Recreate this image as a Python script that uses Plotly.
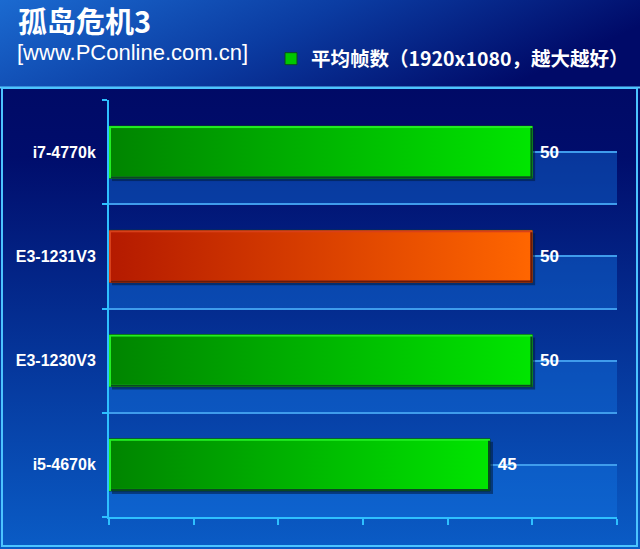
import base64
import plotly.graph_objects as go

# ---- data ----
categories = ["i7-4770k", "E3-1231V3", "E3-1230V3", "i5-4670k"]
fps_values = [50, 50, 50, 45]
highlight = "E3-1231V3"
x_ticks = [0, 10, 20, 30, 40, 50, 60]
title_text = "孤岛危机3"
subtitle_text = "[www.PConline.com.cn]"
series_name = "平均帧数（1920x1080，越大越好）"

W, H = 640, 549
ML, MR, MT, MB = 109, 23, 100, 32
PW, PH = W - ML - MR, H - MT - MB
BAR_W = 0.5
SH = 3  # shadow offset in px

positions = list(range(len(categories) - 1, -1, -1))  # top to bottom
x_span = x_ticks[-1] - x_ticks[0]
y_span = len(categories)


def svg_uri(svg):
    return "data:image/svg+xml;base64," + base64.b64encode(svg.encode("utf-8")).decode()


bg_svg = f"""<svg xmlns='http://www.w3.org/2000/svg' width='{W}' height='{H}' viewBox='0 0 {W} {H}' preserveAspectRatio='none'>
<defs>
<linearGradient id='h' x1='0' y1='0' x2='1' y2='0.3'>
<stop offset='0' stop-color='#1b6ad0'/><stop offset='0.5' stop-color='#0b3ca2'/><stop offset='1' stop-color='#000a68'/>
</linearGradient>
<linearGradient id='p' x1='0' y1='0' x2='0' y2='1'>
<stop offset='0' stop-color='#000a66'/><stop offset='0.15' stop-color='#000d6c'/><stop offset='1' stop-color='#0a5cc6'/>
</linearGradient>
</defs>
<rect x='0' y='0' width='{W}' height='88' fill='url(#h)'/>
<rect x='0' y='88' width='{W}' height='{H-88}' fill='url(#p)'/>
<line x1='0' y1='87.5' x2='{W}' y2='87.5' stroke='#5fd0ff' stroke-width='2'/>
<rect x='2' y='88' width='{W-5}' height='{H-91}' fill='none' stroke='#4cc4ff' stroke-width='2'/>
</svg>"""


def bar_svg(wpx, hpx, c0, c1, edge, dark):
    tw, th = wpx + SH, hpx + SH
    return f"""<svg xmlns='http://www.w3.org/2000/svg' width='{tw:.2f}' height='{th:.2f}' viewBox='0 0 {tw:.2f} {th:.2f}' preserveAspectRatio='none'>
<defs><linearGradient id='b' x1='0' y1='0' x2='1' y2='0'>
<stop offset='0' stop-color='{c0}'/><stop offset='1' stop-color='{c1}'/>
</linearGradient></defs>
<rect x='{SH}' y='{SH}' width='{wpx:.2f}' height='{hpx:.2f}' fill='#001a3a' fill-opacity='0.55'/>
<rect x='0' y='0' width='{wpx:.2f}' height='{hpx:.2f}' fill='url(#b)'/>
<rect x='1' y='1' width='{wpx-2:.2f}' height='{hpx-2:.2f}' fill='none' stroke='{edge}' stroke-width='2'/>
<line x1='{wpx-1:.2f}' y1='2' x2='{wpx-1:.2f}' y2='{hpx:.2f}' stroke='{dark}' stroke-width='2'/>
<line x1='2' y1='{hpx-1:.2f}' x2='{wpx:.2f}' y2='{hpx-1:.2f}' stroke='{dark}' stroke-width='2'/>
</svg>"""


colors = ["#ff5a00" if c == highlight else "#00c800" for c in categories]

fig = go.Figure()
fig.add_trace(go.Bar(
    y=positions, x=fps_values, orientation="h", name=series_name,
    width=BAR_W,
    marker=dict(color=colors, line=dict(color="#0a4a20", width=1)),
    text=[f" {v}" for v in fps_values], textposition="outside",
    textfont=dict(family="Liberation Sans", size=17, color="white", weight="bold"),
    cliponaxis=False, showlegend=True, hoverinfo="skip",
))

images = [
    dict(source=svg_uri(bg_svg), xref="paper", yref="paper",
         x=-ML / PW, y=1 + MT / PH, sizex=W / PW, sizey=H / PH,
         xanchor="left", yanchor="top", sizing="stretch", layer="below"),
]
sx = SH / PW * x_span
sy = SH / PH * y_span
for cat, pos, val in zip(categories, positions, fps_values):
    wpx = val / x_span * PW
    hpx = BAR_W / y_span * PH
    if cat == highlight:
        src = svg_uri(bar_svg(wpx, hpx, "#b41a00", "#ff6600", "#d8401a", "#6a1a08"))
    else:
        src = svg_uri(bar_svg(wpx, hpx, "#008400", "#00e600", "#22ee22", "#0a4a20"))
    images.append(dict(source=src, xref="x", yref="y", x=0, y=pos + BAR_W / 2,
                       sizex=val + sx, sizey=BAR_W + sy, xanchor="left", yanchor="top",
                       sizing="stretch", layer="above"))

shapes = []
for pos in positions:
    shapes.append(dict(type="rect", xref="paper", yref="y", x0=0, x1=1,
                       y0=pos - 0.5, y1=pos, fillcolor="rgba(20,120,230,0.4)",
                       line=dict(width=0), layer="below"))

annotations = [
    dict(text=title_text, xref="paper", yref="paper",
         x=(16 - ML) / PW, y=(H - MB - 20) / PH,
         xanchor="left", yanchor="middle", showarrow=False,
         font=dict(family="Noto Sans CJK SC", size=29, color="white", weight="bold")),
    dict(text=subtitle_text, xref="paper", yref="paper",
         x=(15 - ML) / PW, y=(H - MB - 52.5) / PH,
         xanchor="left", yanchor="middle", showarrow=False,
         font=dict(family="Liberation Sans", size=22, color="white")),
]

grid_col = "#3f9cec"
axis_col = "#2ec0ff"

fig.update_layout(
    width=W, height=H, autosize=False,
    margin=dict(l=ML, r=MR, t=MT, b=MB, pad=0, autoexpand=False),
    paper_bgcolor="#0a3a9a", plot_bgcolor="rgba(0,0,0,0)",
    images=images, shapes=shapes, annotations=annotations,
    legend=dict(orientation="h", x=(271 - ML) / PW, xanchor="left",
                y=(H - MB - 59) / PH, yanchor="middle",
                bgcolor="rgba(0,0,0,0)",
                font=dict(family="Noto Sans CJK SC", size=19.5, color="white", weight="bold")),
    xaxis=dict(range=[x_ticks[0], x_ticks[-1]], tickvals=x_ticks, showticklabels=False,
               ticks="outside", ticklen=6, tickwidth=2, tickcolor=axis_col,
               showgrid=False, zeroline=False, showline=True, linecolor=axis_col,
               linewidth=2, fixedrange=True),
    yaxis=dict(range=[-0.5, len(categories) - 0.5], tickvals=positions, ticktext=categories,
               ticks="", showgrid=True, gridcolor=grid_col, gridwidth=1.5,
               ticklabelstandoff=8,
               tickfont=dict(family="Liberation Sans", size=16, color="white", weight="bold"),
               minor=dict(tickvals=[p - 0.5 for p in positions] + [len(categories) - 0.5],
                          ticks="outside", ticklen=5, tickwidth=2, tickcolor=axis_col,
                          showgrid=True, gridcolor=grid_col, gridwidth=1.5),
               zeroline=False, showline=True, linecolor=axis_col, linewidth=2,
               fixedrange=True),
    bargap=0.5,
)

fig.write_html("out.html",
               config={"responsive": False, "displayModeBar": False},
               post_script="document.body.style.margin='0';document.body.style.padding='0';"
                           "document.body.style.overflow='hidden';")
